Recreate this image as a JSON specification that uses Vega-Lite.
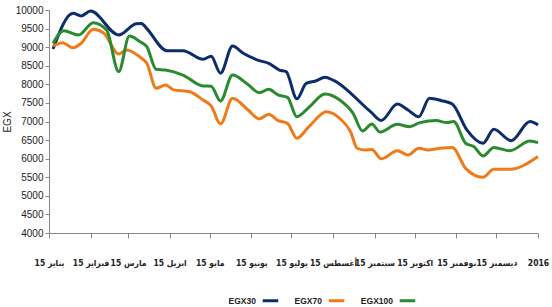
{
  "$schema": "https://vega.github.io/schema/vega-lite/v6.json",
  "width": 489,
  "height": 223,
  "autosize": "none",
  "padding": {"left": 49, "top": 10, "right": 14, "bottom": 74},
  "background": "white",
  "config": {
    "view": {"stroke": null},
    "font": "Liberation Sans",
    "axis": {"grid": false, "domainColor": "#888888", "tickColor": "#888888", "labelColor": "#222222", "titleColor": "#222222", "labelFont": "Liberation Sans", "titleFont": "Liberation Sans"},
    "legend": {"labelFont": "Liberation Sans"}
  },
  "data": {"values": [
    {"date": "2015-01-04", "series": "EGX30", "value": 8950},
    {"date": "2015-01-19", "series": "EGX30", "value": 9910},
    {"date": "2015-01-25", "series": "EGX30", "value": 9840},
    {"date": "2015-02-01", "series": "EGX30", "value": 9970},
    {"date": "2015-02-22", "series": "EGX30", "value": 9330},
    {"date": "2015-03-07", "series": "EGX30", "value": 9630},
    {"date": "2015-03-11", "series": "EGX30", "value": 9640},
    {"date": "2015-03-15", "series": "EGX30", "value": 9500},
    {"date": "2015-03-30", "series": "EGX30", "value": 8905},
    {"date": "2015-04-11", "series": "EGX30", "value": 8905},
    {"date": "2015-04-26", "series": "EGX30", "value": 8675},
    {"date": "2015-05-02", "series": "EGX30", "value": 8755},
    {"date": "2015-05-09", "series": "EGX30", "value": 8300},
    {"date": "2015-05-18", "series": "EGX30", "value": 9030},
    {"date": "2015-05-26", "series": "EGX30", "value": 8835},
    {"date": "2015-06-07", "series": "EGX30", "value": 8640},
    {"date": "2015-06-14", "series": "EGX30", "value": 8565},
    {"date": "2015-06-22", "series": "EGX30", "value": 8385},
    {"date": "2015-06-27", "series": "EGX30", "value": 8340},
    {"date": "2015-07-05", "series": "EGX30", "value": 7610},
    {"date": "2015-07-12", "series": "EGX30", "value": 8025},
    {"date": "2015-07-19", "series": "EGX30", "value": 8090},
    {"date": "2015-07-26", "series": "EGX30", "value": 8190},
    {"date": "2015-08-01", "series": "EGX30", "value": 8115},
    {"date": "2015-08-29", "series": "EGX30", "value": 7265},
    {"date": "2015-09-06", "series": "EGX30", "value": 7030},
    {"date": "2015-09-18", "series": "EGX30", "value": 7470},
    {"date": "2015-09-26", "series": "EGX30", "value": 7310},
    {"date": "2015-10-04", "series": "EGX30", "value": 7130},
    {"date": "2015-10-12", "series": "EGX30", "value": 7625},
    {"date": "2015-10-21", "series": "EGX30", "value": 7560},
    {"date": "2015-10-29", "series": "EGX30", "value": 7470},
    {"date": "2015-11-09", "series": "EGX30", "value": 6770},
    {"date": "2015-11-21", "series": "EGX30", "value": 6415},
    {"date": "2015-11-29", "series": "EGX30", "value": 6790},
    {"date": "2015-12-12", "series": "EGX30", "value": 6485},
    {"date": "2015-12-26", "series": "EGX30", "value": 7000},
    {"date": "2016-01-01", "series": "EGX30", "value": 6905},

    {"date": "2015-01-04", "series": "EGX70", "value": 9030},
    {"date": "2015-01-11", "series": "EGX70", "value": 9120},
    {"date": "2015-01-19", "series": "EGX70", "value": 8985},
    {"date": "2015-01-25", "series": "EGX70", "value": 9105},
    {"date": "2015-02-03", "series": "EGX70", "value": 9480},
    {"date": "2015-02-11", "series": "EGX70", "value": 9375},
    {"date": "2015-02-22", "series": "EGX70", "value": 8815},
    {"date": "2015-02-28", "series": "EGX70", "value": 8925},
    {"date": "2015-03-10", "series": "EGX70", "value": 8730},
    {"date": "2015-03-15", "series": "EGX70", "value": 8565},
    {"date": "2015-03-22", "series": "EGX70", "value": 7895},
    {"date": "2015-03-29", "series": "EGX70", "value": 7985},
    {"date": "2015-04-04", "series": "EGX70", "value": 7850},
    {"date": "2015-04-16", "series": "EGX70", "value": 7800},
    {"date": "2015-04-26", "series": "EGX70", "value": 7580},
    {"date": "2015-05-02", "series": "EGX70", "value": 7420},
    {"date": "2015-05-09", "series": "EGX70", "value": 6935},
    {"date": "2015-05-18", "series": "EGX70", "value": 7625},
    {"date": "2015-05-29", "series": "EGX70", "value": 7330},
    {"date": "2015-06-07", "series": "EGX70", "value": 7070},
    {"date": "2015-06-14", "series": "EGX70", "value": 7195},
    {"date": "2015-06-21", "series": "EGX70", "value": 7025},
    {"date": "2015-06-28", "series": "EGX70", "value": 6950},
    {"date": "2015-07-05", "series": "EGX70", "value": 6550},
    {"date": "2015-07-14", "series": "EGX70", "value": 6860},
    {"date": "2015-07-27", "series": "EGX70", "value": 7265},
    {"date": "2015-08-06", "series": "EGX70", "value": 7085},
    {"date": "2015-08-14", "series": "EGX70", "value": 6730},
    {"date": "2015-08-19", "series": "EGX70", "value": 6280},
    {"date": "2015-08-25", "series": "EGX70", "value": 6230},
    {"date": "2015-08-30", "series": "EGX70", "value": 6250},
    {"date": "2015-09-06", "series": "EGX70", "value": 5995},
    {"date": "2015-09-18", "series": "EGX70", "value": 6210},
    {"date": "2015-09-26", "series": "EGX70", "value": 6100},
    {"date": "2015-10-04", "series": "EGX70", "value": 6280},
    {"date": "2015-10-11", "series": "EGX70", "value": 6235},
    {"date": "2015-10-20", "series": "EGX70", "value": 6280},
    {"date": "2015-10-29", "series": "EGX70", "value": 6300},
    {"date": "2015-11-08", "series": "EGX70", "value": 5740},
    {"date": "2015-11-21", "series": "EGX70", "value": 5500},
    {"date": "2015-11-29", "series": "EGX70", "value": 5715},
    {"date": "2015-12-11", "series": "EGX70", "value": 5715},
    {"date": "2016-01-01", "series": "EGX70", "value": 6060},

    {"date": "2015-01-04", "series": "EGX100", "value": 9105},
    {"date": "2015-01-12", "series": "EGX100", "value": 9445},
    {"date": "2015-01-23", "series": "EGX100", "value": 9325},
    {"date": "2015-02-03", "series": "EGX100", "value": 9660},
    {"date": "2015-02-13", "series": "EGX100", "value": 9460},
    {"date": "2015-02-22", "series": "EGX100", "value": 8340},
    {"date": "2015-03-02", "series": "EGX100", "value": 9300},
    {"date": "2015-03-10", "series": "EGX100", "value": 9145},
    {"date": "2015-03-15", "series": "EGX100", "value": 9015},
    {"date": "2015-03-22", "series": "EGX100", "value": 8405},
    {"date": "2015-03-29", "series": "EGX100", "value": 8385},
    {"date": "2015-04-11", "series": "EGX100", "value": 8250},
    {"date": "2015-04-26", "series": "EGX100", "value": 7955},
    {"date": "2015-05-02", "series": "EGX100", "value": 7950},
    {"date": "2015-05-09", "series": "EGX100", "value": 7550},
    {"date": "2015-05-18", "series": "EGX100", "value": 8250},
    {"date": "2015-05-29", "series": "EGX100", "value": 8010},
    {"date": "2015-06-07", "series": "EGX100", "value": 7775},
    {"date": "2015-06-14", "series": "EGX100", "value": 7865},
    {"date": "2015-06-21", "series": "EGX100", "value": 7715},
    {"date": "2015-06-28", "series": "EGX100", "value": 7650},
    {"date": "2015-07-05", "series": "EGX100", "value": 7130},
    {"date": "2015-07-14", "series": "EGX100", "value": 7380},
    {"date": "2015-07-26", "series": "EGX100", "value": 7740},
    {"date": "2015-08-06", "series": "EGX100", "value": 7580},
    {"date": "2015-08-16", "series": "EGX100", "value": 7220},
    {"date": "2015-08-23", "series": "EGX100", "value": 6745},
    {"date": "2015-08-30", "series": "EGX100", "value": 6935},
    {"date": "2015-09-05", "series": "EGX100", "value": 6715},
    {"date": "2015-09-18", "series": "EGX100", "value": 6925},
    {"date": "2015-09-27", "series": "EGX100", "value": 6860},
    {"date": "2015-10-05", "series": "EGX100", "value": 6970},
    {"date": "2015-10-17", "series": "EGX100", "value": 7025},
    {"date": "2015-10-25", "series": "EGX100", "value": 6970},
    {"date": "2015-10-30", "series": "EGX100", "value": 7000},
    {"date": "2015-11-08", "series": "EGX100", "value": 6415},
    {"date": "2015-11-14", "series": "EGX100", "value": 6325},
    {"date": "2015-11-21", "series": "EGX100", "value": 6075},
    {"date": "2015-11-29", "series": "EGX100", "value": 6300},
    {"date": "2015-12-11", "series": "EGX100", "value": 6215},
    {"date": "2015-12-26", "series": "EGX100", "value": 6475},
    {"date": "2016-01-01", "series": "EGX100", "value": 6430}
  ]},
  "mark": {"type": "line", "interpolate": "monotone", "strokeWidth": 3},
  "encoding": {
    "x": {
      "field": "date", "type": "temporal",
      "scale": {"type": "utc", "domain": [{"year": 2015, "month": 1, "date": 1, "utc": true}, {"year": 2016, "month": 1, "date": 1, "utc": true}], "nice": false},
      "axis": {
        "title": null,
        "tickCount": {"interval": "month", "step": 1},
        "tickSize": 5,
        "labelPadding": 20,
        "labelFont": "DejaVu Sans Condensed",
        "labelFontSize": 8.5,
        "labelFontWeight": "bold",
        "labelFlush": false,
        "labelOverlap": false,
        "labelExpr": "utcyear(datum.value) == 2016 ? '2016' : '15 ' + ['يناير','فبراير','مارس','ابريل','مايو','يونيو','يوليو','أغسطس','سبتمبر','اكتوبر','نوفمبر','ديسمبر'][utcmonth(datum.value)]"
      }
    },
    "y": {
      "field": "value", "type": "quantitative",
      "scale": {"domain": [4000, 10000], "nice": false, "zero": false},
      "axis": {"title": "EGX", "titleFontSize": 10, "titleFontWeight": "normal", "titlePadding": 3, "values": [4000,4500,5000,5500,6000,6500,7000,7500,8000,8500,9000,9500,10000], "format": "d", "labelFontSize": 10, "tickSize": 4, "labelPadding": 2}
    },
    "color": {
      "field": "series", "type": "nominal",
      "scale": {"domain": ["EGX30", "EGX70", "EGX100"], "range": ["#0c2d6b", "#ef7a1a", "#2a8a2e"]},
      "legend": {
        "title": null,
        "orient": "none",
        "legendX": 212,
        "legendY": 281,
        "direction": "horizontal",
        "symbolType": "stroke",
        "symbolSize": 240,
        "symbolStrokeWidth": 3,
        "labelFontSize": 8.5,
        "labelFontWeight": "bold",
        "labelColor": "#222222",
        "labelAlign": "right",
        "labelOffset": -24,
        "columnPadding": 9
      }
    }
  }
}
